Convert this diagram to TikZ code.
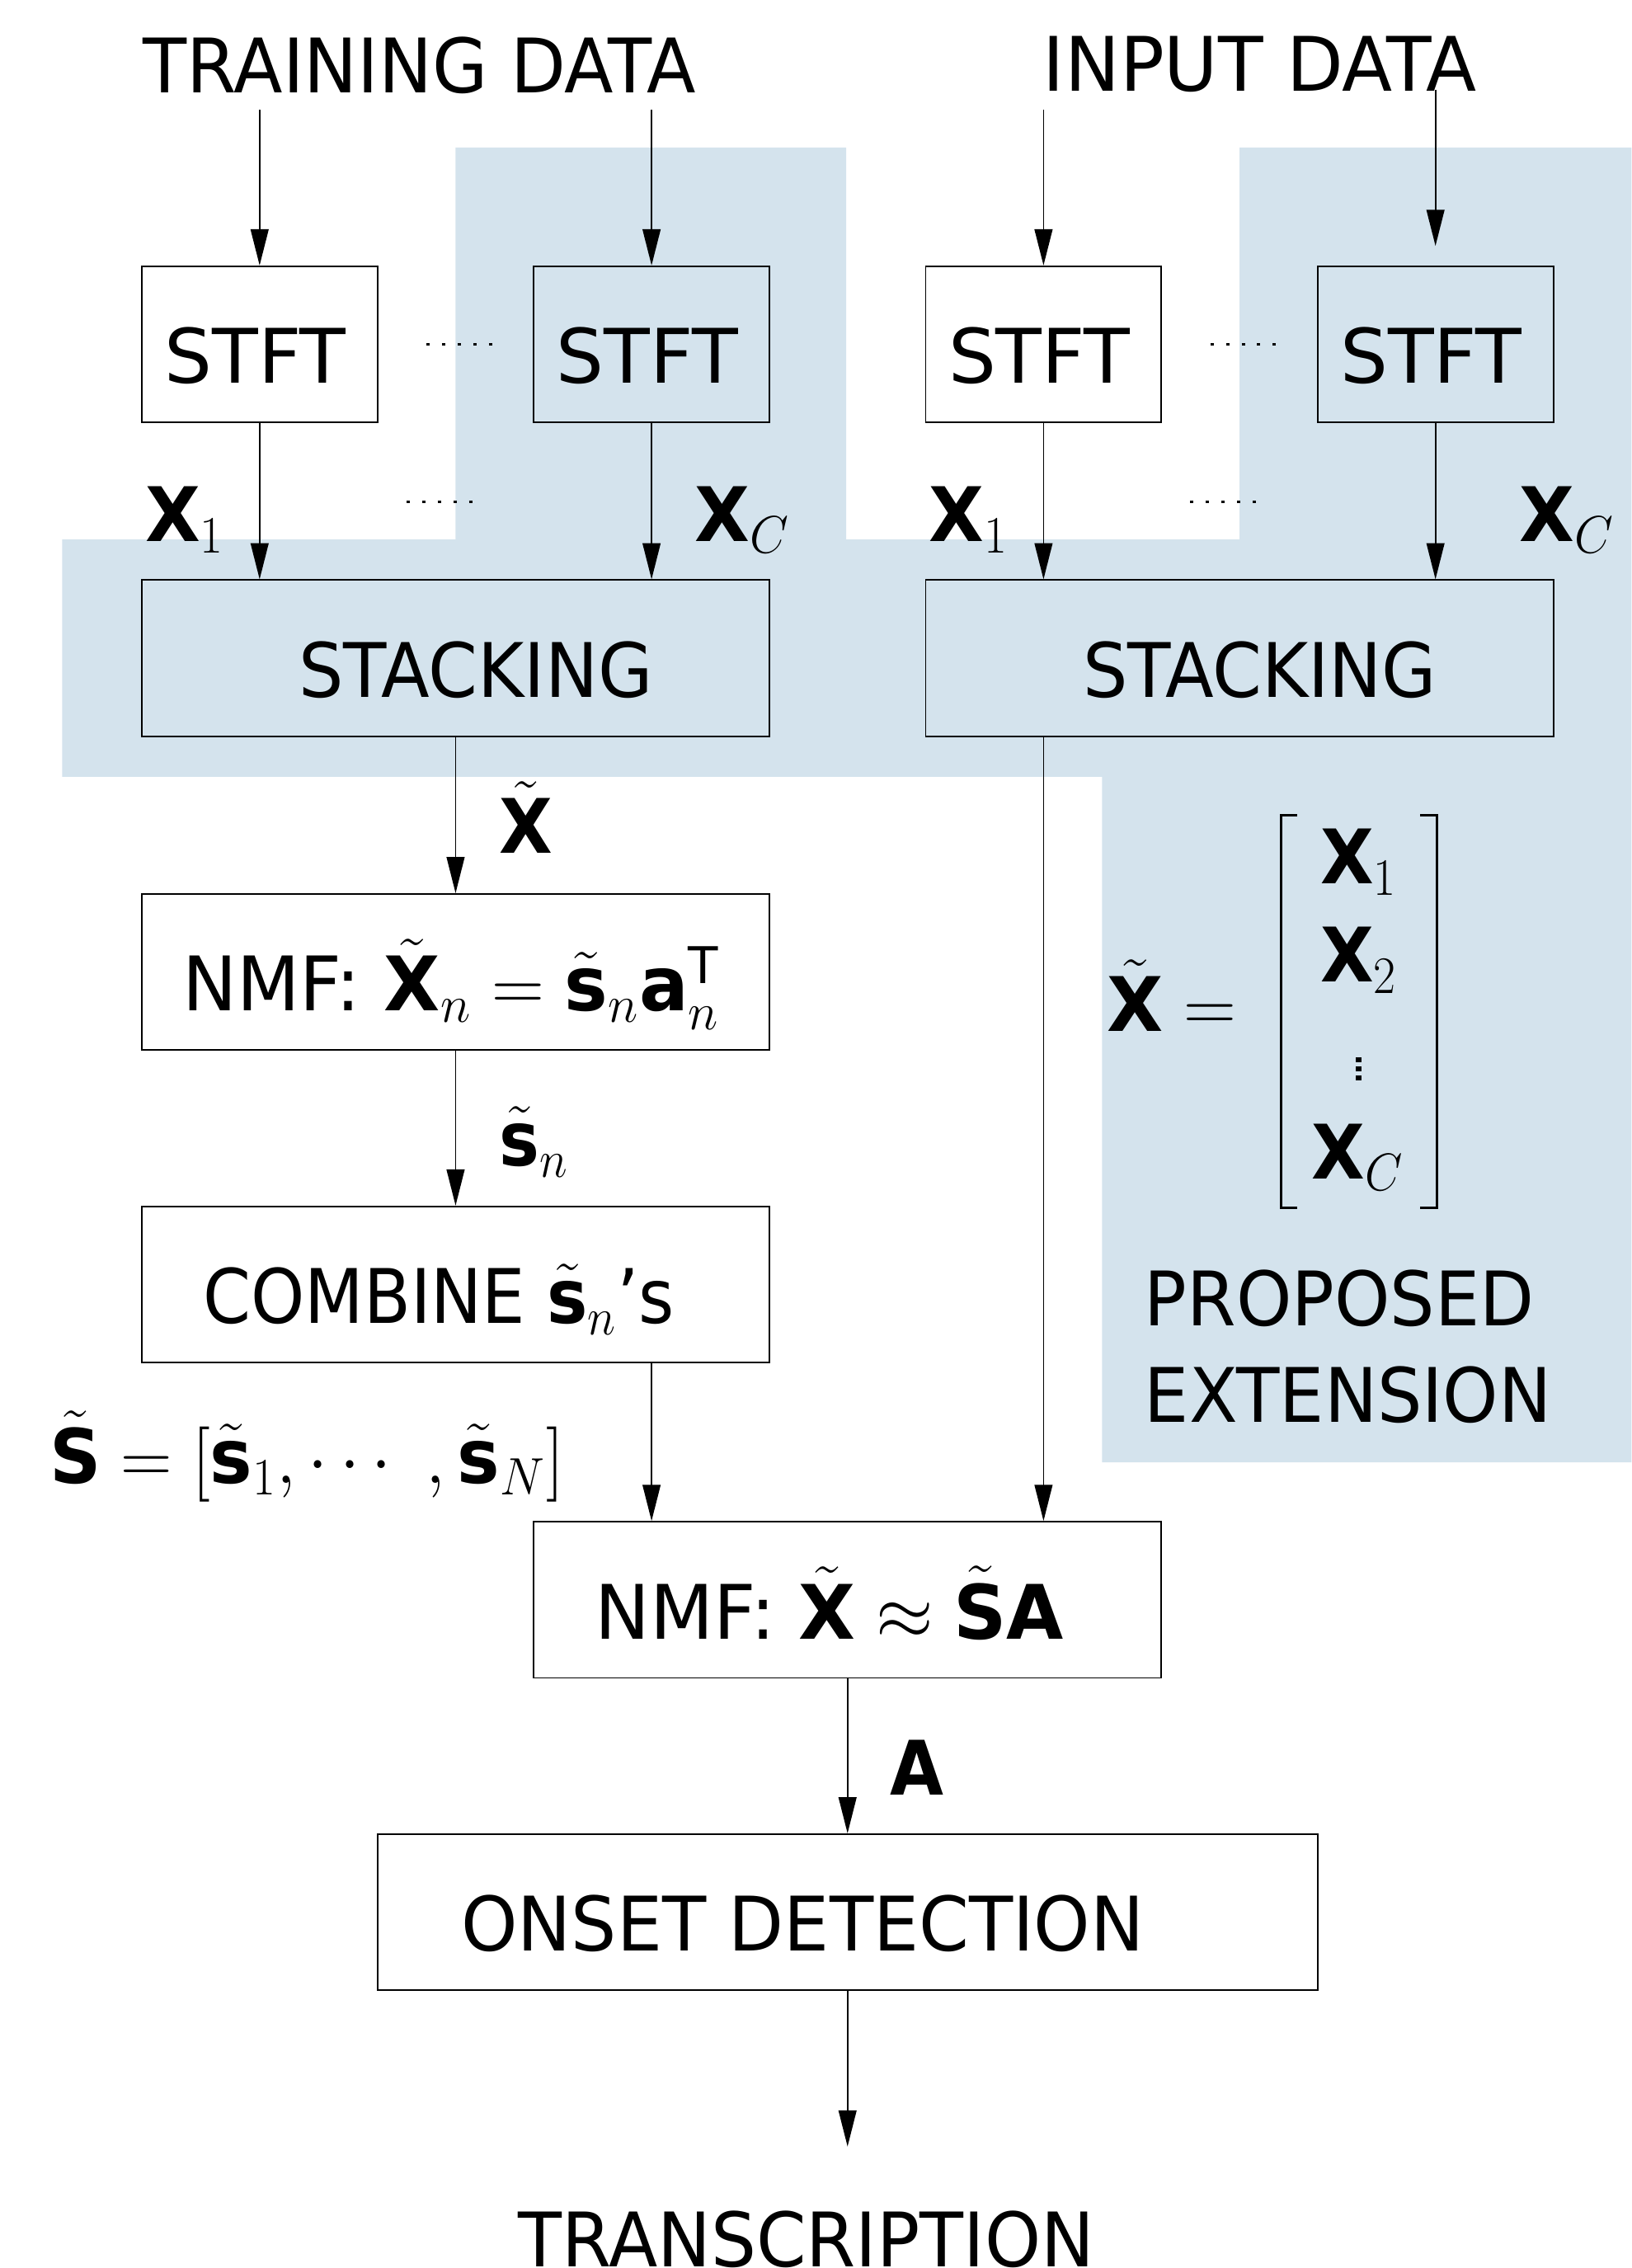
\RequirePackage{fix-cm}
\documentclass[tikz,border=0pt]{standalone}
\usepackage[no-math]{fontspec}
\setmainfont{DejaVu Sans}
\usepackage{graphicx}
\usetikzlibrary{arrows.meta}

\definecolor{extblue}{RGB}{212,227,237}

% bold sans vectors and matrices
\newcommand\tfX{\mbox{\bfseries X}}
\newcommand\tfS{\mbox{\bfseries S}}
\newcommand\tfA{\mbox{\bfseries A}}
\newcommand\tfs{\mbox{\bfseries s}}
\newcommand\tfa{\mbox{\bfseries a}}
% horizontally narrowed text
\newcommand\sq[2]{\scalebox{#1}[1]{#2}}

\tikzset{
  box/.style={draw, line width=0.5pt, minimum height=54pt, inner xsep=0pt,
              inner ysep=0pt, text height=40.5pt, text depth=13.5pt},
  txt/.style={inner sep=0pt, anchor=base west},
  arr/.style={-{Triangle[length=12.5pt,width=6.2pt]}, line width=0.5pt},
  dotrow/.style={line width=0.7pt, dash pattern=on 1.15pt off 4.25pt},
  brk/.style={line width=0.85pt, miter limit=4}
}

\begin{document}
\begin{tikzpicture}[x=0.5pt, y=-0.5pt, font=\fontsize{26}{31}\selectfont]
\useasboundingbox (0,0) rectangle (1128,1568);

% shaded area of the proposed extension
\fill[extblue] (315,102) -- (585,102) -- (585,373) -- (857,373) -- (857,102)
  -- (1128,102) -- (1128,1011) -- (762,1011) -- (762,537) -- (43,537)
  -- (43,373) -- (315,373) -- cycle;

% inputs
\node[txt, anchor=base] (train) at (290,64) {\sq{0.953}{TRAINING DATA}};
\node[txt, anchor=base] (input) at (871,63) {\sq{0.979}{INPUT DATA}};

% STFT stages
\node[box, minimum width=81.5pt] (stft1) at (179.5,238) {STFT\hspace*{3pt}};
\node[box, minimum width=81.5pt] (stft2) at (450.5,238) {STFT\hspace*{3pt}};
\node[box, minimum width=81.5pt] (stft3) at (721.5,238) {STFT\hspace*{3pt}};
\node[box, minimum width=81.5pt] (stft4) at (992.5,238) {STFT\hspace*{3pt}};

% stacking stages
\node[box, minimum width=217pt] (stackL) at (315,455) {\hspace*{14pt}\sq{0.94}{STACKING}};
\node[box, minimum width=217pt] (stackR) at (857,455) {\hspace*{14pt}\sq{0.94}{STACKING}};

% factorisation chain
\node[box, minimum width=217pt] (nmf1) at (315,672)
  {\sq{0.97}{NMF: $\tilde{\tfX}_n = \tilde{\tfs}_n\tfa_n^{\mbox{\fontsize{17.5}{18}\selectfont T}}$}\hspace*{3pt}};
\node[box, minimum width=217pt] (comb) at (315,888)
  {\sq{0.91}{COMBINE $\tilde{\tfs}_n$'s}\hspace*{11.5pt}};
\node[box, minimum width=217pt] (nmf2) at (586,1106)
  {\sq{0.98}{NMF: $\tilde{\tfX} \approx \tilde{\tfS}\tfA$}\hspace*{12.5pt}};
\node[box, minimum width=325pt] (onset) at (586,1322)
  {\sq{0.955}{ONSET DETECTION}\hspace*{31pt}};
\node[txt, anchor=base] (trans) at (557.5,1567) {\sq{0.95}{TRANSCRIPTION}};

% free ends of the connectors
\coordinate (t1) at (179.5,76);
\coordinate (t2) at (450.5,76);
\coordinate (t3) at (721.5,76);
\coordinate (t4) at (992.5,62);
\coordinate (t4tip) at (992.5,170);
\coordinate (tip) at (586,1484);

% connectors
\draw[arr] (t1) -- (stft1);
\draw[arr] (t2) -- (stft2);
\draw[arr] (t3) -- (stft3);
\draw[arr] (t4) -- (t4tip);
\draw[arr] (stft1) -- (stackL.north -| stft1);
\draw[arr] (stft2) -- (stackL.north -| stft2);
\draw[arr] (stft3) -- (stackR.north -| stft3);
\draw[arr] (stft4) -- (stackR.north -| stft4);
\draw[arr] (stackL) -- (nmf1);
\draw[arr] (nmf1) -- (comb);
\draw[arr] (comb.south -| stft2) -- (nmf2.north -| stft2);
\draw[arr] (stackR.south -| stft3) -- (nmf2.north -| stft3);
\draw[arr] (nmf2) -- (onset);
\draw[arr] (onset) -- (tip);

% elided channels
\draw[dotrow] (294.8,238) -- (340.3,238);
\draw[dotrow] (836.8,238) -- (882.3,238);
\draw[dotrow] (281,347) -- (326.5,347);
\draw[dotrow] (823,347) -- (868.5,347);

% connector labels
\node[txt] (lx1) at (100,374.5) {\sq{0.95}{$\tfX_1$}};
\node[txt] (lxc) at (480,374.5) {\sq{0.95}{$\tfX_C$}};
\node[txt] (rx1) at (642,374.5) {\sq{0.95}{$\tfX_1$}};
\node[txt] (rxc) at (1050,374.5) {\sq{0.95}{$\tfX_C$}};
\node[txt] (lxt) at (345,590) {\sq{0.92}{$\tilde{\tfX}$}};
\node[txt] (lsn) at (345,806) {\sq{0.9}{$\tilde{\tfs}_n$}};
\node[txt] (lS) at (34,1025.5) {\sq{0.95}{$\tilde{\tfS} = [\tilde{\tfs}_1, \cdots\ , \tilde{\tfs}_N]$}};
\node[txt] (lA) at (615,1241) {\sq{0.92}{$\tfA$}};

% stacked matrix
\node[txt] (xeq) at (765,713) {\sq{0.97}{$\tilde{\tfX} =$}};
\node[txt] (m1) at (912.5,611) {\sq{0.92}{$\tfX_1$}};
\node[txt] (m2) at (912.5,678.7) {\sq{0.92}{$\tfX_2$}};
\node[txt] (mc) at (906.7,815) {\sq{0.92}{$\tfX_C$}};
\fill (937.5,731) rectangle (941.5,734.4);
\fill (937.5,737.3) rectangle (941.5,740.7);
\fill (937.5,743.6) rectangle (941.5,747);
\draw[brk] (897,563.5) -- (885.5,563.5) -- (885.5,835) -- (897,835);
\draw[brk] (982,563.5) -- (993.8,563.5) -- (993.8,835) -- (982,835);

% caption of the shaded area
\node[txt] (prop) at (791,916.4) {\sq{0.94}{PROPOSED}};
\node[txt] (ext) at (791,983) {\sq{0.94}{EXTENSION}};
\end{tikzpicture}
\end{document}
